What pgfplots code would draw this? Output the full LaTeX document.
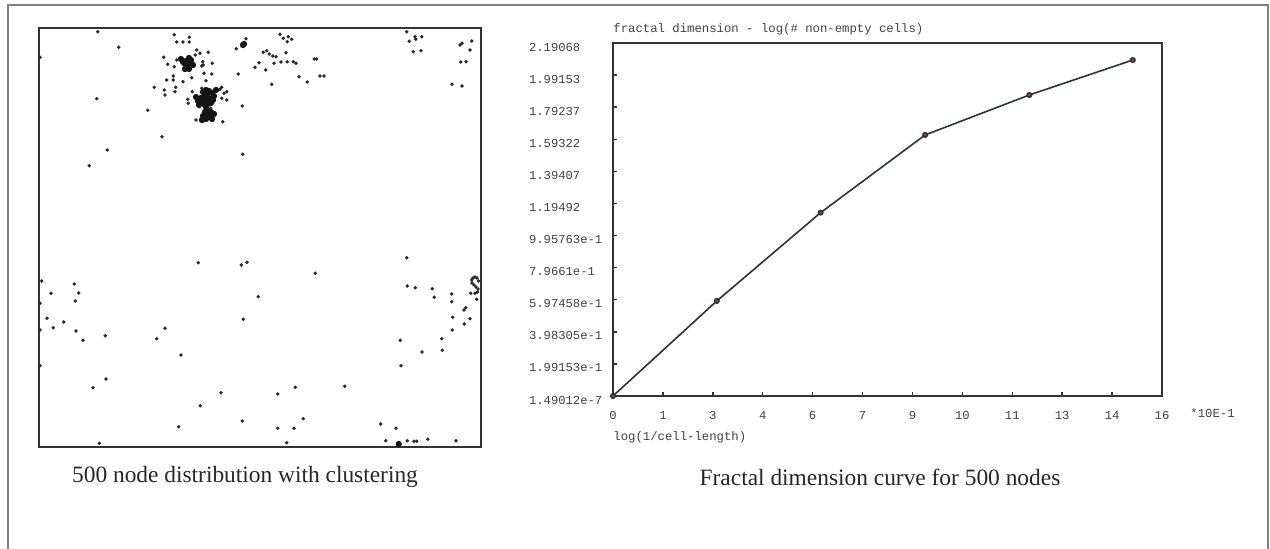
\documentclass[border=0pt]{standalone}
\usepackage{pgfplots}
\pgfplotsset{compat=1.18}
\usepackage{fontspec}
\setmainfont{Liberation Serif}
\newfontfamily\monofont{Liberation Mono}
\definecolor{dotc}{HTML}{2A2A2A}
\definecolor{blobc}{HTML}{151515}
\definecolor{redm}{HTML}{C03A3A}
\definecolor{linec}{HTML}{2E3330}
\begin{document}
\begin{tikzpicture}
\useasboundingbox (0pt,0pt) rectangle (635pt,-274.5pt);
\draw[black!50, line width=0.7pt] (4pt,-280pt) -- (4pt,-2.5pt) -- (634pt,-2.5pt) -- (634pt,-280pt);
% ---------------- left: node distribution ----------------
\begin{axis}[at={(19.5pt,-223.5pt)}, anchor=south west, scale only axis,
  width=221pt, height=209.5pt,
  xmin=39, xmax=481, ymin=28, ymax=447, y dir=reverse,
  axis line style={black!80, line width=0.9pt}, ticks=none, clip=false]
\addplot[only marks, color=dotc, mark=*, mark size=0.65pt, mark options={draw=none, fill=dotc}] table {
97.7 31.7
118.7 47.3
96.7 98.7
147.7 110.3
162 136.7
107.3 150
89.3 165.7
242.7 154.3
242.3 106
238.3 74
236.3 48.7
246 38.7
174.3 34.7
176.7 42
183 42
189.3 37.3
189.3 42
163.7 57.3
167.7 64.3
174.3 66.7
173.3 76
166.7 80
164.3 90
154.3 87.3
175.7 87.3
183 81.7
191.7 77.7
196.7 50
200 53.3
195.3 55
208.3 52.3
202.7 61.7
212.3 63.3
201.7 66
204 73.3
211.7 74
206 80.7
192.3 91.7
187.7 99.3
220 89.3
224 93.3
226.7 91.7
221.7 87.3
199.3 106.7
210.7 108.3
196 120
222.7 121.7
213.3 115
176.7 60
203.3 65
201.7 88.3
221.7 98.3
226.7 100
188.3 103.3
175 91.7
165 95
173.3 80
280 34.3
283.3 38.3
288.3 36.7
291.7 39.3
287.3 41.7
263.3 52.3
266.7 50.7
269.3 54
272.7 56
276 56.7
286 52.7
287.3 61.7
293.3 61.7
296 63.3
259 62.7
255 67.3
265.7 70
274 63.3
281 62
314.3 59
316.5 59
271.7 84.3
299 76.7
307.3 82
320 76
324 76
406.7 31.7
409.3 41.3
415 36.7
415.7 39.3
421.7 36.7
413.3 51.7
421 50.7
460 45
462 43.3
471.7 41
460.7 62
466 61.7
452 84.3
462 86
470 50
198.3 262.7
241.3 265
247 262.3
315.3 273.3
258.3 296.7
243.3 319.3
406.7 257.7
407.3 286
415.3 287.7
432.3 288.7
434.3 297.3
451.7 294
451.7 301.7
464 310
465.7 307.7
452.7 317.3
470 318.7
464.3 324
452.3 330
441.7 338.7
442.3 350.3
422 352
400.3 340.3
401 365.7
471.7 280
473 278
475 277
477 278
478.5 281
472 283
474 285
476 287
478 289
477.5 292
470.7 293.3
475 293.3
476.7 299.3
41.7 281
51 293.3
74.3 284
78.7 293
75.3 301
47 318.3
53.3 327.7
63.7 322
76 331
83 340.3
105.3 335.7
165 328.3
156.7 338.7
181 355
106 379
93 387.7
221 392.7
200.3 405.7
178.7 426.7
242.3 421
277.7 394
295.3 387.3
344.7 386.3
303.3 418.7
277.7 428.3
294 428.3
380.7 424
396 428.3
99.3 443.3
286.7 442.7
385.7 440.7
407.3 440.7
414 441.3
416.7 441.3
427.7 439.3
456 440.7
40 57.3
40 303.3
40 330
40 365.7
};
% dense cluster cores
\addplot[only marks, color=blobc, mark=*, mark size=1.35pt, mark options={draw=none, fill=blobc}] table {
186 61
189 58
191 60
188 64
185 64
183 62
191 63
187 67
185 69
193 65
181 59
189 69
203 92
206 90
209 91
212 93
214 96
207 95
204 97
201 98
198 101
202 101
206 100
210 99
213 100
204 104
208 104
211 103
199 105
206 107
216 90
196 97
205 112
208 111
211 112
214 114
207 115
203 116
210 117
206 119
212 119
202 120
243 45
244 44
398.7 444
};
\end{axis}
\node[font=\fontsize{11.7}{13}\selectfont, text=black!85] at (122.5pt,-238.5pt) {500 node distribution with clustering};
% ---------------- right: fractal dimension curve ----------------
\begin{axis}[at={(306.5pt,-198pt)}, anchor=south west, scale only axis,
  width=274.5pt, height=176.5pt,
  xmin=0, xmax=15.917, ymin=0, ymax=2.19068,
  axis line style={black!80, line width=0.9pt},
  xtick pos=bottom, ytick pos=left, tick align=inside,
  major tick length=2pt, tick style={black!80, line width=0.7pt},
  xtick={0,1.447,2.894,4.341,5.788,7.235,8.682,10.129,11.576,13.023,14.47,15.917},
  xticklabels={0,1,3,4,6,7,9,10,11,13,14,16},
  ytick={0,0.199153,0.398305,0.597458,0.79661,0.995763,1.19492,1.39407,1.59322,1.79237,1.99153,2.19068},
  yticklabels={1.49012e-7,1.99153e-1,3.98305e-1,5.97458e-1,7.9661e-1,9.95763e-1,1.19492,1.39407,1.59322,1.79237,1.99153,2.19068},
  tick label style={font=\monofont\fontsize{6.1}{7}\selectfont, text=black!75},
  yticklabel style={anchor=west, xshift=-45.5pt, yshift=-2pt},
  xticklabel style={yshift=-4.3pt},
  clip=false]
\addplot[color=linec, line width=0.8pt, mark=*, mark size=1.1pt, mark options={draw=none, fill=redm}] table {
0 0
3.01 0.590
6.02 1.138
9.05 1.620
12.07 1.868
15.07 2.085
};
\end{axis}
\node[anchor=west, font=\monofont\fontsize{6.15}{7}\selectfont, text=black!75, inner sep=0pt] at (306.5pt,-14.5pt) {fractal dimension - log(\# non-empty cells)};
\node[anchor=west, font=\monofont\fontsize{6.15}{7}\selectfont, text=black!75, inner sep=0pt] at (306.5pt,-218.5pt) {log(1/cell-length)};
\node[anchor=west, font=\monofont\fontsize{6.15}{7}\selectfont, text=black!75, inner sep=0pt] at (595pt,-206.5pt) {*10E-1};
\node[font=\fontsize{11.7}{13}\selectfont, text=black!85] at (440pt,-238.5pt) {Fractal dimension curve for 500 nodes};
\end{tikzpicture}
\end{document}
